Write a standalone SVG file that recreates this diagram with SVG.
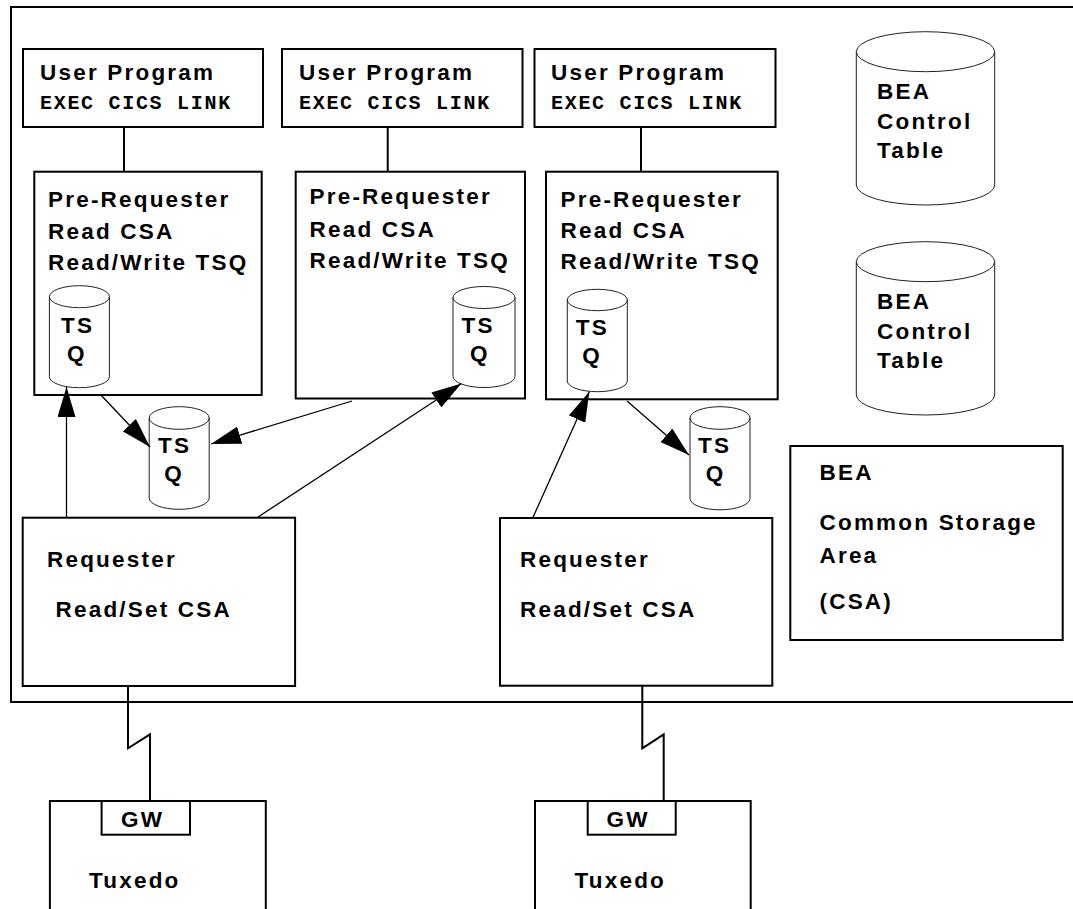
<svg xmlns="http://www.w3.org/2000/svg" width="1073" height="909" viewBox="0 0 1073 909">
<style>
.box{fill:#fff;stroke:#000;stroke-width:2}
.cyl{fill:#fff;stroke:#222;stroke-width:1}
.t{font-family:"Liberation Sans",Arial,Helvetica,sans-serif;font-weight:bold;font-size:22.5px;letter-spacing:2.2px;fill:#000}
.m{font-family:"Liberation Mono","Courier New",monospace;font-weight:bold;font-size:20px;letter-spacing:1.7px;fill:#000}
.c{fill:none;stroke:#000;stroke-width:2}
.a{fill:none;stroke:#000;stroke-width:1.3;marker-end:url(#ah)}
</style>
<defs>
<marker id="ah" markerUnits="userSpaceOnUse" markerWidth="30" markerHeight="18" refX="30" refY="9" orient="auto" viewBox="0 0 30 18">
<path d="M0,0 L30,9 L0,18 z" fill="#000"/>
</marker>
</defs>
<rect width="1073" height="909" fill="#fff"/>
<g id="frame"><path d="M1075,7 H11 V702 H1075" class="c"/></g>

<g id="up1"><rect class="box" x="23" y="49" width="240" height="78"/><text class="t" x="40" y="80">User Program</text><text class="m" x="40" y="109.3">EXEC CICS LINK</text></g>
<g id="up2"><rect class="box" x="282" y="49" width="240.5" height="78"/><text class="t" x="299" y="80">User Program</text><text class="m" x="299" y="109.3">EXEC CICS LINK</text></g>
<g id="up3"><rect class="box" x="534.5" y="49" width="241" height="78"/><text class="t" x="551" y="80">User Program</text><text class="m" x="551" y="109.3">EXEC CICS LINK</text></g>

<g id="pr1"><rect class="box" x="34.3" y="171.7" width="227.4" height="223.3"/><text class="t" x="48" y="207">Pre-Requester</text><text class="t" x="48" y="239">Read CSA</text><text class="t" x="48" y="270">Read/Write TSQ</text></g>
<g id="pr2"><rect class="box" x="295.7" y="171.7" width="229.3" height="226.8"/><text class="t" x="309.5" y="204">Pre-Requester</text><text class="t" x="309.5" y="237">Read CSA</text><text class="t" x="309.5" y="268">Read/Write TSQ</text></g>
<g id="pr3"><rect class="box" x="546" y="171.7" width="231.7" height="227.6"/><text class="t" x="560.5" y="207">Pre-Requester</text><text class="t" x="560.5" y="238">Read CSA</text><text class="t" x="560.5" y="269">Read/Write TSQ</text></g>

<g id="tsq1"><path class="cyl" d="M49.4,296.7 A30,11 0 0 1 109.4,296.7 V376.7 A30,11 0 0 1 49.4,376.7 Z M49.4,296.7 A30,11 0 0 0 109.4,296.7"/><text class="t" x="61" y="333.3">TS</text><text class="t" x="67" y="360.5">Q</text></g>
<g id="tsq2"><path class="cyl" d="M453,297.5 A31,11 0 0 1 515,297.5 V376.5 A31,11 0 0 1 453,376.5 Z M453,297.5 A31,11 0 0 0 515,297.5"/><text class="t" x="461.5" y="333">TS</text><text class="t" x="470" y="360.5">Q</text></g>
<g id="tsq3"><path class="cyl" d="M567.3,300 A30,10.7 0 0 1 627.3,300 V381 A30,10.7 0 0 1 567.3,381 Z M567.3,300 A30,10.7 0 0 0 627.3,300"/><text class="t" x="575.7" y="335">TS</text><text class="t" x="582.3" y="362.5">Q</text></g>
<g id="tsq4"><path class="cyl" d="M149.2,418 A30,11.3 0 0 1 209.2,418 V498 A30,11.3 0 0 1 149.2,498 Z M149.2,418 A30,11.3 0 0 0 209.2,418"/><text class="t" x="158" y="453.3">TS</text><text class="t" x="164.3" y="481">Q</text></g>
<g id="tsq5"><path class="cyl" d="M690,418 A30,11.3 0 0 1 750,418 V498.5 A30,11.3 0 0 1 690,498.5 Z M690,418 A30,11.3 0 0 0 750,418"/><text class="t" x="698" y="453.3">TS</text><text class="t" x="705.7" y="481">Q</text></g>

<g id="bea1"><path class="cyl" d="M856.3,51.7 A69.2,20 0 0 1 994.7,51.7 V185 A69.2,20 0 0 1 856.3,185 Z M856.3,51.7 A69.2,20 0 0 0 994.7,51.7"/><text class="t" x="877" y="99.3">BEA</text><text class="t" x="877" y="129">Control</text><text class="t" x="877" y="158.3">Table</text></g>
<g id="bea2"><path class="cyl" d="M856.3,261.7 A69.2,20 0 0 1 994.7,261.7 V395 A69.2,20 0 0 1 856.3,395 Z M856.3,261.7 A69.2,20 0 0 0 994.7,261.7"/><text class="t" x="877" y="309.3">BEA</text><text class="t" x="877" y="339">Control</text><text class="t" x="877" y="367.7">Table</text></g>

<g id="csa"><rect class="box" x="790.3" y="446" width="272.4" height="194"/><text class="t" x="819.5" y="480">BEA</text><text class="t" x="819.5" y="530">Common Storage</text><text class="t" x="819.5" y="562.7">Area</text><text class="t" x="819.5" y="608.5">(CSA)</text></g>

<g id="req1"><rect class="box" x="22.7" y="517.7" width="272.4" height="168.3"/><text class="t" x="47" y="566.7">Requester</text><text class="t" x="55.5" y="616.7">Read/Set CSA</text></g>
<g id="req2"><rect class="box" x="500" y="518" width="272.3" height="167.7"/><text class="t" x="520" y="566.7">Requester</text><text class="t" x="520" y="616.7">Read/Set CSA</text></g>

<g id="tux1"><rect class="box" x="49.9" y="801" width="215.9" height="130"/><rect class="box" x="101.6" y="801" width="88.4" height="33.7"/><text class="t" x="121" y="826.7">GW</text><text class="t" x="89" y="887.7">Tuxedo</text></g>
<g id="tux2"><rect class="box" x="535" y="801" width="215.7" height="130"/><rect class="box" x="587.7" y="801" width="88" height="33.7"/><text class="t" x="606.5" y="826.7">GW</text><text class="t" x="574.5" y="887.7">Tuxedo</text></g>

<g id="connectors">
<line class="c" x1="124" y1="127" x2="124" y2="171.7"/>
<line class="c" x1="387.7" y1="127" x2="387.7" y2="171.7"/>
<line class="c" x1="641" y1="127" x2="641" y2="171.7"/>
<path class="c" d="M128,686 V748.3 L150,734.3 V801"/>
<path class="c" d="M642.3,686 V748.3 L663.7,734.3 V801"/>
<line class="a" x1="66.5" y1="518" x2="66.5" y2="387"/>
<line class="a" x1="100" y1="394" x2="150" y2="447"/>
<line class="a" x1="352" y1="401" x2="211" y2="444"/>
<line class="a" x1="256.5" y1="518" x2="461.4" y2="383.5"/>
<line class="a" x1="532.7" y1="518" x2="589.3" y2="391.7"/>
<line class="a" x1="627" y1="401" x2="689" y2="455"/>
</g>
</svg>
